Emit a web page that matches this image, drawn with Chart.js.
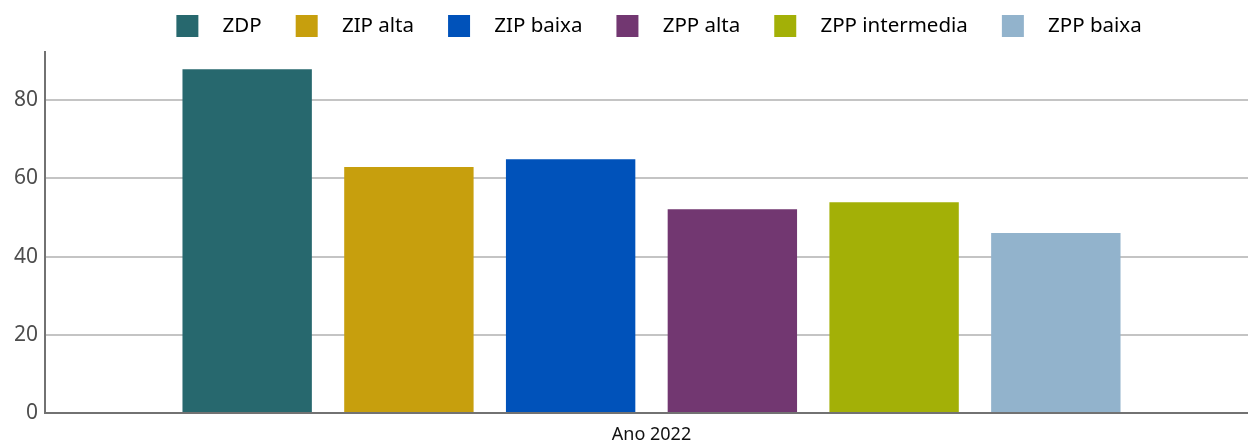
<!DOCTYPE html>
<html>
<head>
<meta charset="utf-8">
<script src="https://cdn.jsdelivr.net/npm/chart.js@4"></script>
<style>
  html, body { margin: 0; padding: 0; background: #fff; overflow: hidden; }
  #wrap { width: 1258px; height: 442px; }
</style>
</head>
<body>
<div id="wrap"><canvas id="zonasChart" width="1258" height="442"></canvas></div>
<script>
// data
const categories = ["Ano 2022"];
const seriesNames = ["ZDP", "ZIP alta", "ZIP baixa", "ZPP alta", "ZPP intermedia", "ZPP baixa"];
const seriesValues = [87.9, 62.9, 64.9, 52.1, 53.9, 46.0];
const seriesColors = ["#27686e", "#c79f0d", "#0052ba", "#723771", "#a3b007", "#92b3cc"];
const yTicks = [0, 20, 40, 60, 80];

const FONT = "'Noto Sans', 'DejaVu Sans', sans-serif";

// legend swatch: square with some blank room on the left
function swatch(color) {
  const c = document.createElement("canvas");
  c.width = 51;
  c.height = 22;
  const g = c.getContext("2d");
  g.fillStyle = color;
  g.fillRect(15, 0, 22, 22);
  return c;
}

// extra room between legend and plot
const legendGap = {
  id: "legendGap",
  beforeInit(chart) {
    const fit = chart.legend.fit;
    chart.legend.fit = function () {
      fit.call(this);
      this.height += 5.75;
    };
  }
};

const datasets = seriesNames.map((name, i) => ({
  label: name,
  data: [seriesValues[i]],
  backgroundColor: seriesColors[i],
  borderWidth: 0,
  barPercentage: 0.8,
  categoryPercentage: 0.8
}));

new Chart(document.getElementById("zonasChart"), {
  type: "bar",
  data: { labels: categories, datasets: datasets },
  options: {
    responsive: false,
    animation: false,
    devicePixelRatio: 1,
    layout: { padding: { top: -3.25, left: 0, right: 0, bottom: 0 } },
    plugins: {
      tooltip: { enabled: false },
      legend: {
        position: "top",
        fullSize: false,
        labels: {
          usePointStyle: true,
          pointStyleWidth: 51,
          padding: 19,
          color: "#111",
          font: { family: FONT, size: 20.5 },
          generateLabels(chart) {
            return chart.data.datasets.map((ds, i) => ({
              text: ds.label,
              fillStyle: ds.backgroundColor,
              strokeStyle: ds.backgroundColor,
              lineWidth: 0,
              pointStyle: swatch(ds.backgroundColor),
              hidden: false,
              datasetIndex: i
            }));
          }
        }
      }
    },
    scales: {
      x: {
        grid: { display: false, drawTicks: true, tickLength: 14 },
        border: { display: true, color: "#727272", width: 2 },
        ticks: { color: "#111", font: { family: FONT, size: 18, lineHeight: 0.72 }, padding: 1 }
      },
      y: {
        min: 0,
        max: Math.max(...seriesValues) * 1.05,
        afterBuildTicks(axis) {
          axis.ticks = yTicks.map(v => ({ value: v }));
        },
        afterFit(axis) {
          axis.width = 45;
        },
        grid: { color: "#c4c4c4", lineWidth: 2, drawTicks: false },
        border: { display: true, color: "#727272", width: 2 },
        ticks: { color: "#4d4d4d", font: { family: FONT, size: 21 }, padding: 7 }
      }
    }
  },
  plugins: [legendGap]
});
</script>
</body>
</html>
